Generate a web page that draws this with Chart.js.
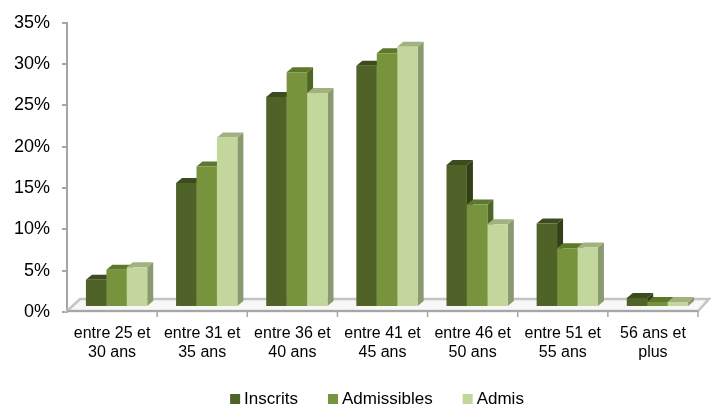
<!DOCTYPE html>
<html>
<head>
<meta charset="utf-8">
<script src="https://cdn.jsdelivr.net/npm/chart.js@4"></script>
<style>
  html, body { margin: 0; padding: 0; background: #ffffff; }
  #wrap { width: 711px; height: 406px; }
</style>
</head>
<body>
<div id="wrap"><canvas id="c" width="711" height="406"></canvas></div>
<script>
// Age brackets (two-line labels)
const ageGroups = [
  ['entre 25 et', '30 ans'],
  ['entre 31 et', '35 ans'],
  ['entre 36 et', '40 ans'],
  ['entre 41 et', '45 ans'],
  ['entre 46 et', '50 ans'],
  ['entre 51 et', '55 ans'],
  ['56 ans et', 'plus']
];

// Share of each population per bracket, in %
const inscrits    = [3.3, 15.0, 25.4, 29.2, 17.2, 10.1, 1.1];
const admissibles = [4.5, 17.0, 28.4, 30.7, 12.4, 7.1, 0.6];
const admis       = [4.8, 20.5, 25.9, 31.5, 10.0, 7.2, 0.6];

const seriesNames = ['Inscrits', 'Admissibles', 'Admis'];
const yTickValues = [0, 5, 10, 15, 20, 25, 30, 35];

// Colours: front face, top face, right side face
const palette = [
  { front: '#4f6228', top: '#3d4c1e', side: '#323f17' },
  { front: '#77933c', top: '#5e772d', side: '#4f6524' },
  { front: '#c3d69b', top: '#a2b27f', side: '#8a9a6f' }
];

const FONT = "'Liberation Sans', Arial, sans-serif";
const DEPTH = { dx: 6, dy: 5 };      // extrusion of each column
const OFFSET = { x: 4.5, y: -5 };    // columns stand a little inside the floor

// Floor slab, side faces and tops of the extruded columns
const columns3d = {
  id: 'columns3d',
  beforeDatasetsDraw(chart) {
    const ctx = chart.ctx;
    const a = chart.chartArea;
    const xs = chart.scales.x;

    // floor
    ctx.save();
    ctx.beginPath();
    ctx.moveTo(a.left, a.bottom - 1);
    ctx.lineTo(a.right, a.bottom - 1);
    ctx.lineTo(a.right + 11, a.bottom - 13);
    ctx.lineTo(a.left + 13, a.bottom - 13);
    ctx.closePath();
    ctx.fillStyle = '#f7f7f7';
    ctx.fill();
    ctx.lineWidth = 2.5;
    ctx.strokeStyle = '#c4c4c4';
    ctx.stroke();
    ctx.beginPath();
    ctx.moveTo(a.left, a.bottom - 1);
    ctx.lineTo(a.right, a.bottom - 1);
    ctx.lineWidth = 2;
    ctx.strokeStyle = '#a6a6a6';
    ctx.stroke();
    // category separators below the floor edge
    ctx.lineWidth = 1.5;
    for (let i = 1; i <= ageGroups.length; i++) {
      const px = xs.getPixelForValue(i - 0.5);
      ctx.beginPath();
      ctx.moveTo(px, a.bottom - 1);
      ctx.lineTo(px, a.bottom + 5);
      ctx.stroke();
    }
    ctx.restore();

    // everything in the dataset layer is offset onto the floor
    ctx.save();
    ctx.translate(OFFSET.x, OFFSET.y);
    chart.data.datasets.forEach((ds, i) => {
      const meta = chart.getDatasetMeta(i);
      const col = palette[i];
      meta.data.forEach(bar => {
        const p = bar.getProps(['x', 'y', 'base', 'width'], true);
        const l = p.x - p.width / 2, r = p.x + p.width / 2;
        // right side
        ctx.fillStyle = col.side;
        ctx.beginPath();
        ctx.moveTo(r, p.y);
        ctx.lineTo(r + DEPTH.dx, p.y - DEPTH.dy);
        ctx.lineTo(r + DEPTH.dx, p.base - DEPTH.dy);
        ctx.lineTo(r, p.base);
        ctx.closePath();
        ctx.fill();
        // top
        ctx.fillStyle = col.top;
        ctx.beginPath();
        ctx.moveTo(l, p.y);
        ctx.lineTo(l + DEPTH.dx, p.y - DEPTH.dy);
        ctx.lineTo(r + DEPTH.dx, p.y - DEPTH.dy);
        ctx.lineTo(r, p.y);
        ctx.closePath();
        ctx.fill();
      });
    });
  },
  afterDatasetsDraw(chart) {
    chart.ctx.restore();
  }
};

// Legend row under the axis labels
const legendRow = {
  id: 'legendRow',
  afterDraw(chart) {
    const ctx = chart.ctx;
    ctx.save();
    ctx.font = '17px ' + FONT;
    ctx.textBaseline = 'middle';
    const box = 10, gapBox = 4, gapItem = 30;
    const widths = seriesNames.map(n => ctx.measureText(n).width);
    const total = widths.reduce((s, w) => s + box + gapBox + w, 0) + gapItem * (seriesNames.length - 1);
    let x = 377 - total / 2;
    const yc = 399;
    seriesNames.forEach((n, i) => {
      ctx.fillStyle = palette[i].front;
      ctx.fillRect(x, yc - box / 2, box, box);
      x += box + gapBox;
      ctx.fillStyle = '#000000';
      ctx.fillText(n, x, yc);
      x += widths[i] + gapItem;
    });
    ctx.restore();
  }
};

const datasetsFrom = [inscrits, admissibles, admis];

new Chart(document.getElementById('c'), {
  type: 'bar',
  data: {
    labels: ageGroups,
    datasets: datasetsFrom.map((vals, i) => ({
      label: seriesNames[i],
      data: vals,
      backgroundColor: palette[i].front,
      borderWidth: 0,
      categoryPercentage: 0.68,
      barPercentage: 1.0
    }))
  },
  options: {
    responsive: false,
    devicePixelRatio: 1,
    animation: false,
    layout: { padding: { top: 21, right: 13, bottom: 0, left: 0 } },
    plugins: {
      legend: { display: false },
      tooltip: { enabled: false }
    },
    scales: {
      x: {
        grid: { display: false, drawTicks: false },
        border: { display: false },
        ticks: {
          color: '#000000',
          font: { family: FONT, size: 16 },
          padding: 12,
          maxRotation: 0,
          autoSkip: false
        },
        afterFit(scale) { scale.height = 94; }
      },
      y: {
        min: 0,
        max: 35,
        afterBuildTicks(scale) { scale.ticks = yTickValues.map(v => ({ value: v })); },
        grid: { drawOnChartArea: false, drawTicks: true, tickLength: 5, color: '#a6a6a6', lineWidth: 2 },
        border: { display: true, color: '#a6a6a6', width: 2 },
        ticks: {
          color: '#000000',
          font: { family: FONT, size: 18 },
          padding: 12,
          callback: v => v + '%'
        },
        afterFit(scale) { scale.width = 67; }
      }
    }
  },
  plugins: [columns3d, legendRow]
});
</script>
</body>
</html>
